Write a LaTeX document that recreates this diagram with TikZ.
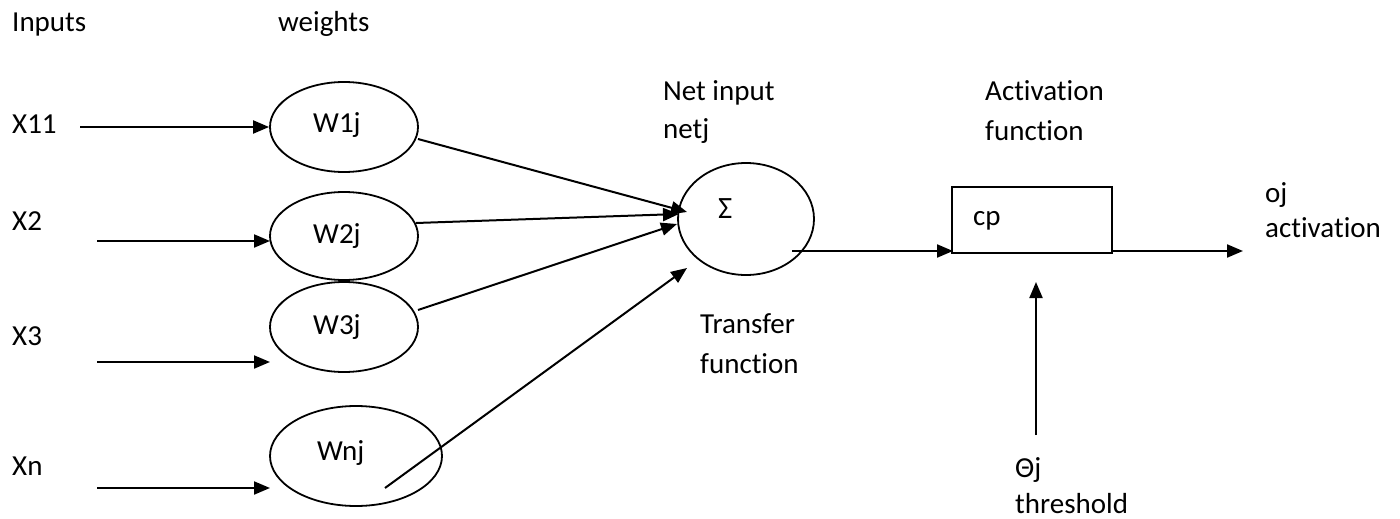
\documentclass[tikz,border=0pt]{standalone}
\usepackage{fontspec}
\setmainfont{Carlito}[Ligatures=NoCommon]
\usetikzlibrary{arrows.meta,shapes.geometric}
\tikzset{
  lbl/.style={anchor=base west, inner sep=0pt, font=\fontsize{29}{33}\selectfont},
  wnode/.style={draw, ellipse, line width=1.8pt, inner sep=0pt},
  conn/.style={line width=2pt, -{Triangle[length=16pt,width=13pt]}},
  plain/.style={line width=2pt}
}
\begin{document}
\begin{tikzpicture}[x=1pt,y=-1pt]
\useasboundingbox (0,0) rectangle (1400,519);
% labels
\node[lbl] (inputs) at (12,32) {Inputs};
\node[lbl] (weights) at (278,32) {weights};
\node[lbl] (x11) at (12,133) {X11};
\node[lbl] (x2) at (12,230) {X2};
\node[lbl] (x3) at (12,345) {X3};
\node[lbl] (xn) at (12,475) {Xn};
% weight ellipses
\node[wnode, minimum width=148, minimum height=90] (W1) at (344,127) {};
\node[wnode, minimum width=148, minimum height=88] (W2) at (344,236) {};
\node[wnode, minimum width=148, minimum height=90] (W3) at (344,327) {};
\node[wnode, minimum width=172, minimum height=100] (Wn) at (356,456) {};
\node[lbl] (w1t) at (313,132) {W1j};
\node[lbl] (w2t) at (313,243) {W2j};
\node[lbl] (w3t) at (313,334) {W3j};
\node[lbl] (wnt) at (317,460) {Wnj};
% sum
\node[wnode, minimum width=136, minimum height=112] (S) at (746,219) {};
\node[lbl] (sig) at (718,218) {\fontsize{31}{33}\selectfont Σ};
\node[lbl] (netin) at (663,100) {Net input};
\node[lbl] (netj) at (663,138) {netj};
\node[lbl] (tr1) at (700,333) {Transfer};
\node[lbl] (tr2) at (700,373) {function};
% activation box
\node[draw, line width=1.8pt, minimum width=160, minimum height=66, inner sep=0pt] (B) at (1032,220) {};
\node[lbl] (cp) at (973,225) {cp};
\node[lbl] (act1) at (985,100) {Activation};
\node[lbl] (act2) at (985,140) {function};
\node[lbl] (oj) at (1265,202) {oj};
\node[lbl] (oj2) at (1265,237) {activation};
\node[lbl] (th1) at (1015,477) {Θj};
\node[lbl] (th2) at (1015,513) {threshold};
% coordinates
\coordinate (a1) at (80,127);
\coordinate (a2) at (97,241);
\coordinate (e2) at (270,241);
\coordinate (a3) at (97,362);
\coordinate (e3) at (270,362);
\coordinate (a4) at (97,488);
\coordinate (e4) at (270,488);
\coordinate (w1o) at (418,139);
\coordinate (w2o) at (416,223);
\coordinate (w3o) at (418,310);
\coordinate (wno) at (385,488);
\coordinate (t1) at (687,212);
\coordinate (t2) at (679,214);
\coordinate (t3) at (677,224);
\coordinate (t4) at (687,268);
\coordinate (so) at (792,251);
\coordinate (bi) at (953,251);
\coordinate (bo) at (1112,251);
\coordinate (out) at (1243,251);
\coordinate (ths) at (1036,435);
\coordinate (tht) at (1036,282);
% connectors
\draw[conn] (a1) -- (W1.west);
\draw[conn] (a2) -- (e2);
\draw[conn] (a3) -- (e3);
\draw[conn] (a4) -- (e4);
\draw[conn] (w1o) -- (t1);
\draw[conn] (w2o) -- (t2);
\draw[conn] (w3o) -- (t3);
\draw[conn] (wno) -- (t4);
\draw[conn] (so) -- (bi);
\draw[conn] (bo) -- (out);
\draw[conn] (ths) -- (tht);
\end{tikzpicture}
\end{document}
